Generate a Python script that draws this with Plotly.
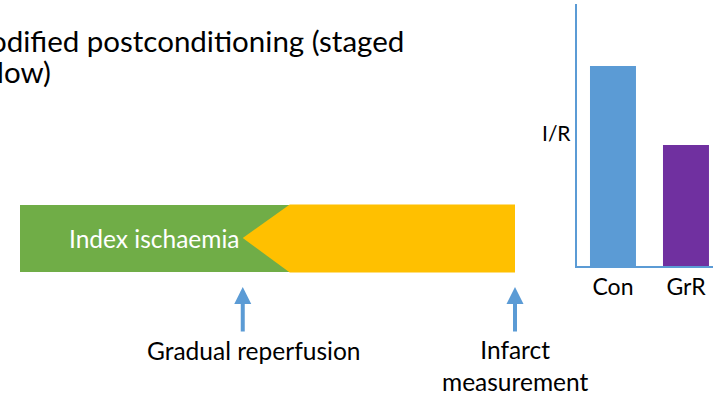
import plotly.graph_objects as go

W, H = 713, 403

# ---- data ----
title_lines = ["Modified postconditioning (staged", "reflow)"]
bar_categories = ["Con", "GrR"]
bar_values = [100, 60.5]          # relative infarct size (I/R)
bar_colors = ["#5B9BD5", "#7030A0"]
bar_axis_label = "I/R"

# timeline (protocol time, % of total)
ischaemia_start = 0
reperfusion_start = 45
ramp_end = 54.5
measurement_time = 100
phase_label = "Index ischaemia"
event_labels = ["Gradual reperfusion", "Infarct<br>measurement"]
event_times = [reperfusion_start, measurement_time]

FONT = "Lato"
GREEN = "#70AD47"
YELLOW = "#FFC000"
BLUE = "#5B9BD5"
LABEL_SIZE = 24.5

def px_x(p):
    return p / W

def px_y(p):
    return 1 - p / H

fig = go.Figure()

# band: y in pixel-from-top coordinates on hidden axis
band_top, band_bot, band_mid = 205, 272, 238
fig.add_trace(go.Scatter(
    x=[ischaemia_start, ramp_end, ramp_end, ischaemia_start, ischaemia_start],
    y=[band_top, band_top, band_bot, band_bot, band_top],
    fill="toself", fillcolor=GREEN, mode="lines", line=dict(width=0),
    hoverinfo="skip", showlegend=False, xaxis="x", yaxis="y"))
fig.add_trace(go.Scatter(
    x=[ramp_end, measurement_time, measurement_time, ramp_end, reperfusion_start, ramp_end],
    y=[band_top - 0.5, band_top - 0.5, band_bot + 0.5, band_bot + 0.5, band_mid, band_top - 0.5],
    fill="toself", fillcolor=YELLOW, mode="lines", line=dict(width=0),
    hoverinfo="skip", showlegend=False, xaxis="x", yaxis="y"))

# bars
fig.add_trace(go.Bar(
    x=bar_categories, y=bar_values, marker=dict(color=bar_colors, line=dict(width=0)),
    xaxis="x2", yaxis="y2", showlegend=False, hoverinfo="skip"))

annotations = []
# title (cropped at the left edge, as in the reference)
annotations.append(dict(
    text=title_lines[0], xref="paper", yref="paper", x=px_x(406), y=px_y(40),
    xanchor="right", yanchor="middle", showarrow=False,
    font=dict(family=FONT, size=29.5, color="black")))
annotations.append(dict(
    text=title_lines[1], xref="paper", yref="paper", x=px_x(53), y=px_y(71),
    xanchor="right", yanchor="middle", showarrow=False,
    font=dict(family=FONT, size=29.5, color="black")))
annotations.append(dict(
    text=phase_label, xref="x", yref="y", x=(ischaemia_start + reperfusion_start) / 2,
    xshift=23.5, y=band_mid, xanchor="center", yanchor="middle", showarrow=False,
    font=dict(family=FONT, size=LABEL_SIZE, color="white")))
# arrows
for t in event_times:
    annotations.append(dict(
        text="", xref="x", yref="y", x=t, y=287, ax=0, ay=46,
        showarrow=True, arrowhead=2, arrowsize=0.85, arrowwidth=4, arrowcolor=BLUE))
annotations.append(dict(
    text=event_labels[0], xref="x", yref="y", x=event_times[0], y=350, xshift=11,
    xanchor="center", yanchor="middle", showarrow=False,
    font=dict(family=FONT, size=LABEL_SIZE, color="black")))
annotations.append(dict(
    text=event_labels[1], xref="x", yref="y", x=event_times[1], y=365,
    xanchor="center", yanchor="middle", showarrow=False,
    font=dict(family=FONT, size=LABEL_SIZE, color="black")))
annotations.append(dict(
    text=bar_axis_label, xref="paper", yref="paper", x=px_x(556), y=px_y(132),
    xanchor="center", yanchor="middle", showarrow=False,
    font=dict(family=FONT, size=21, color="black")))

fig.update_layout(
    width=W, height=H, margin=dict(l=0, r=0, t=0, b=0),
    paper_bgcolor="white", plot_bgcolor="rgba(0,0,0,0)",
    bargap=0.37,
    xaxis=dict(domain=[px_x(20), px_x(515)], range=[0, 100], visible=False, fixedrange=True),
    yaxis=dict(domain=[0, 1], range=[H, 0], visible=False, fixedrange=True),
    xaxis2=dict(domain=[px_x(576.7), 1], range=[-0.497, 1.37], anchor="y2",
                showline=True, linecolor=BLUE, linewidth=1.5, showgrid=False, zeroline=False,
                ticks="", ticklabelstandoff=0, fixedrange=True,
                tickfont=dict(family=FONT, size=23, color="black")),
    yaxis2=dict(domain=[px_y(266), px_y(4)], range=[0, 131], anchor="x2",
                showline=True, linecolor=BLUE, linewidth=1.5, showgrid=False, zeroline=False,
                showticklabels=False, ticks="", fixedrange=True),
    annotations=annotations,
)

fig.write_html("out.html", config={"displayModeBar": False},
               post_script="document.body.style.margin='0';")
